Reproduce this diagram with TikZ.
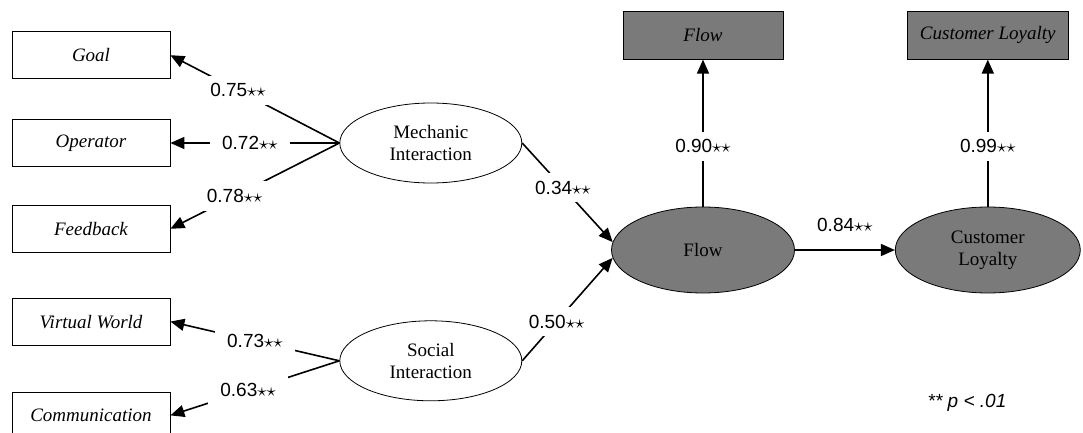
\documentclass[tikz,border=0pt]{standalone}
\usepackage{fontspec}
\setmainfont{Liberation Serif}
\setsansfont{Liberation Sans}
\usetikzlibrary{shapes.geometric, arrows.meta, positioning}
\definecolor{shadegray}{gray}{0.48}
\newcommand{\twostar}{$\star\star$}

\begin{document}
\begin{tikzpicture}[
  item/.style={rectangle, draw, minimum width=79pt, minimum height=23.5pt, font=\fontsize{9.5}{11}\selectfont\itshape},
  latent/.style={ellipse, draw, minimum width=91pt, minimum height=40pt, align=center, font=\fontsize{9.5}{11}\selectfont},
  shaded/.style={fill=shadegray},
  load/.style={fill=white, inner xsep=6pt, inner ysep=4pt, font=\sffamily\fontsize{9.5}{11}\selectfont},
  link/.style={-{Triangle[length=7pt,width=6pt]}, line width=0.8pt}
]
  \useasboundingbox (0,0) rectangle (541.5pt,-216.5pt);

  % observed items
  \node[item] (operator) at (45.5pt,-71.5pt) {Operator};
  \node[item, above=20pt of operator] (goal) {Goal};
  \node[item, below=19pt of operator] (feedback) {Feedback};
  \node[item, below=22.5pt of feedback] (virtual) {Virtual World};
  \node[item, below=23pt of virtual] (comm) {Communication};

  % latent constructs
  \node[latent, right=84.5pt of operator] (mech) {Mechanic\\Interaction};
  \node[latent, below=68.5pt of mech] (social) {Social\\Interaction};
  \node[latent, shaded, minimum width=91.5pt, minimum height=43pt] (flow) at (351.5pt,-125pt) {Flow};
  \node[latent, shaded, minimum width=92.5pt, minimum height=43pt, right=50pt of flow] (loyal) {Customer\\Loyalty};

  % shaded indicators
  \node[item, shaded, minimum width=80pt, minimum height=24pt, above=73.5pt of flow] (flowbox) {Flow};
  \node[item, shaded, minimum width=80.5pt, minimum height=24pt, above=73.5pt of loyal] (loyalbox) {Customer Loyalty};

  \node[font=\sffamily\itshape\fontsize{9.5}{11}\selectfont] (sig) at (483.5pt,-201.5pt) {** p < .01};

  \draw[link] (mech.west) -- node[load, pos=0.6] {0.75\twostar} (goal.east);
  \draw[link] (mech.west) -- node[load, pos=0.53] {0.72\twostar} (operator.east);
  \draw[link] (mech.west) -- node[load, pos=0.62] {0.78\twostar} (feedback.east);
  \draw[link] (social.west) -- node[load, pos=0.5] {0.73\twostar} (virtual.east);
  \draw[link] (social.west) -- node[load, pos=0.54] {0.63\twostar} (comm.east);

  \draw[link] (mech.east) -- node[load, pos=0.45] {0.34\twostar} (flow.175);
  \draw[link] (social.east) -- node[load, pos=0.38] {0.50\twostar} (flow.185);
  \draw[link] (flow) -- node[load, fill=none, above=5pt] {0.84\twostar} (loyal);

  \draw[link] (flow) -- node[load, pos=0.41] {0.90\twostar} (flowbox);
  \draw[link] (loyal) -- node[load, pos=0.41] {0.99\twostar} (loyalbox);
\end{tikzpicture}
\end{document}
